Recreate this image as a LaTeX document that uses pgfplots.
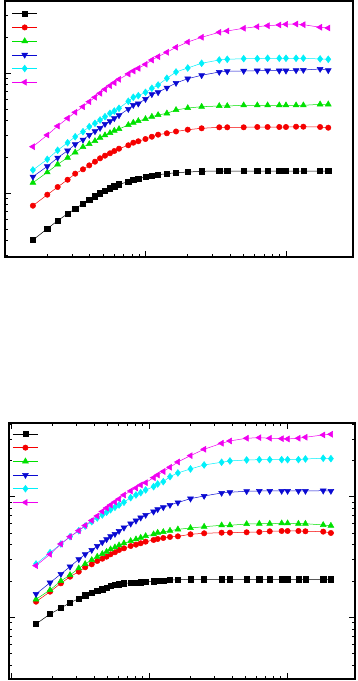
\documentclass[border=0pt]{standalone}
\usepackage{pgfplots}
\usepackage{pgfplotstable}
\pgfplotsset{compat=1.18}
\definecolor{cK}{RGB}{0,0,0}
\definecolor{cR}{RGB}{245,0,0}
\definecolor{cG}{RGB}{0,225,0}
\definecolor{cB}{RGB}{10,10,210}
\definecolor{cC}{RGB}{0,240,250}
\definecolor{cM}{RGB}{240,0,240}

\pgfplotstableread{
x k r g b c m
0.158 0.0406 0.0784 0.1218 0.1367 0.1555 0.2432
0.20 0.0504 0.0968 0.1488 0.1669 0.191 0.3043
0.237 0.0588 0.1122 0.1734 0.1968 0.227 0.3614
0.279 0.0672 0.129 0.1968 0.2252 0.2625 0.4195
0.316 0.074 0.1449 0.2183 0.2545 0.2944 0.4705
0.359 0.0815 0.1576 0.2416 0.278 0.3243 0.5236
0.398 0.088 0.170 0.2559 0.3043 0.3569 0.5764
0.437 0.0939 0.1823 0.271 0.3266 0.381 0.6275
0.475 0.0994 0.1946 0.289 0.3483 0.4058 0.6776
0.515 0.1039 0.2046 0.3027 0.3758 0.4324 0.7316
0.559 0.1094 0.2143 0.3162 0.396 0.4613 0.7839
0.60 0.1137 0.2239 0.3304 0.4195 0.482 0.8299
0.648 0.1181 0.234 0.3413 0.444 0.508 0.886
0.755 0.1242 0.2498 0.3689 0.501 0.581 0.9817
0.819 0.1283 0.2625 0.3855 0.541 0.6275 1.04
0.889 0.1316 0.2698 0.398 0.555 0.647 1.094
1.0 0.136 0.2818 0.4138 0.607 0.690 1.181
1.11 0.1394 0.2944 0.4324 0.665 0.7458 1.283
1.23 0.142 0.3062 0.4467 0.690 0.794 1.368
1.42 0.1449 0.3145 0.4613 0.754 0.903 1.488
1.65 0.1476 0.3256 0.492 0.8254 1.02 1.637
2.0 0.1496 0.337 0.5105 0.8964 1.101 1.811
2.51 0.1516 0.346 0.5236 0.957 1.205 1.984
3.35 0.1525 0.3528 0.531 1.0188 1.283 2.183
3.82 0.1525 0.3528 0.531 1.033 1.30 2.239
5.0 0.1525 0.3528 0.538 1.04 1.316 2.358
6.25 0.1525 0.3548 0.538 1.045 1.316 2.432
7.4 0.1525 0.3548 0.538 1.045 1.326 2.478
8.96 0.1525 0.3548 0.538 1.045 1.326 2.512
10 0.1525 0.3548 0.538 1.045 1.326 2.547
11.8 0.1525 0.3569 0.538 1.053 1.326 2.559
13.3 0.1525 0.3569 0.538 1.059 1.326 2.527
17.5 0.1525 0.3548 0.548 1.079 1.309 2.404
20 0.1525 0.35 0.548 1.053 1.30 2.371
}\toptable

\pgfplotstableread{
x k r g b c m
0.152 0.088 0.1347 0.141 0.156 0.2767 0.2679
0.192 0.1065 0.1631 0.1684 0.1936 0.3433 0.333
0.230 0.1194 0.1913 0.2 0.2286 0.4053 0.4053
0.268 0.1321 0.2171 0.2242 0.2628 0.4659 0.4659
0.31 0.1426 0.2388 0.2548 0.3027 0.5223 0.5223
0.345 0.1522 0.2598 0.2767 0.333 0.5715 0.577
0.385 0.159 0.2751 0.2986 0.3614 0.6204 0.6348
0.422 0.1652 0.293 0.318 0.390 0.6658 0.6918
0.459 0.1706 0.306 0.335 0.4185 0.7052 0.754
0.493 0.176 0.318 0.350 0.4432 0.7424 0.806
0.527 0.1818 0.333 0.3664 0.4694 0.78 0.8535
0.567 0.1853 0.346 0.3805 0.4905 0.8167 0.9038
0.607 0.1877 0.3614 0.3954 0.5195 0.8535 0.957
0.659 0.1913 0.3733 0.4108 0.5533 0.8988 1.033
0.737 0.1924 0.390 0.4292 0.597 0.9811 1.115
0.805 0.1936 0.400 0.4432 0.6324 1.033 1.181
0.871 0.195 0.4108 0.4571 0.6697 1.079 1.25
0.946 0.196 0.4236 0.472 0.7052 1.137 1.306
1.08 0.1988 0.4375 0.4877 0.7509 1.21 1.437
1.156 0.2 0.4459 0.5028 0.786 1.274 1.513
1.27 0.201 0.4545 0.5095 0.8167 1.331 1.618
1.42 0.2038 0.4634 0.5223 0.8535 1.465 1.753
1.62 0.205 0.469 0.536 0.895 1.573 1.94
2.0 0.2065 0.4877 0.55 0.9625 1.697 2.188
2.51 0.2065 0.497 0.5638 1.0135 1.832 2.472
3.36 0.2065 0.5028 0.579 1.073 1.929 2.772
3.86 0.2065 0.5028 0.579 1.088 1.977 2.897
5.1 0.2065 0.5066 0.5935 1.109 2.015 3.05
6.3 0.2065 0.5095 0.597 1.115 2.027 3.085
7.5 0.2065 0.5164 0.597 1.115 2.027 3.05
9.15 0.2065 0.5195 0.6016 1.115 2.027 3.027
10.1 0.2065 0.5195 0.6016 1.115 2.027 3.009
12.1 0.2065 0.5195 0.597 1.115 2.027 3.05
13.6 0.2065 0.5164 0.597 1.115 2.054 3.109
18.3 0.2065 0.5129 0.5825 1.121 2.082 3.249
20.8 0.2065 0.50 0.5748 1.115 2.066 3.292
}\bottable

\pgfplotsset{
  legend image code/.code={%
    \draw[mark repeat=2, mark phase=2, #1] plot coordinates {(0pt,0pt) (12.5pt,0pt) (25pt,0pt)};},
}

\begin{document}
\begin{tikzpicture}[x=1pt,y=1pt]
\useasboundingbox (0,0) rectangle (357,681);
\pgfplotsset{
  every axis/.append style={
    scale only axis,
    xticklabels={}, yticklabels={},
    tick align=inside,
    major tick length=6pt,
    minor tick length=3pt,
    every tick/.style={black, line width=0.7pt},
    axis line style={line width=1.6pt},
    legend style={draw=none, fill=none, inner sep=0pt, outer sep=0pt,
      row sep=0pt, column sep=0pt,
      nodes={inner sep=0pt, outer sep=0pt, text height=6.85pt, text depth=6.85pt}},
    legend cell align=left,
  },
}
\begin{loglogaxis}[
  at={(5pt,424pt)}, anchor=south west,
  width=348pt, height=256pt,
  xmin=0.1, xmax=30, ymin=0.0293, ymax=3.98,
  xtick pos=lower, ytick pos=left,
  legend style={at={(0.02,0.977)}, anchor=north west},
]
\addplot[color=cK, line width=0.5pt, mark=square*, mark size=2.6pt, mark options={solid, fill=cK}] table[x=x,y=k]{\toptable}; \addlegendentry{}
\addplot[color=cR, line width=0.5pt, mark=*, mark size=2.7pt, mark options={solid, fill=cR}] table[x=x,y=r]{\toptable}; \addlegendentry{}
\addplot[color=cG, line width=0.5pt, mark=triangle*, mark size=3.4pt, mark options={solid, fill=cG}] table[x=x,y=g]{\toptable}; \addlegendentry{}
\addplot[color=cB, line width=0.5pt, mark=triangle*, mark size=3.4pt, mark options={solid, fill=cB, rotate=180}] table[x=x,y=b]{\toptable}; \addlegendentry{}
\addplot[color=cC, line width=0.5pt, mark=diamond*, mark size=3.4pt, mark options={solid, fill=cC}] table[x=x,y=c]{\toptable}; \addlegendentry{}
\addplot[color=cM, line width=0.5pt, mark=triangle*, mark size=3.4pt, mark options={solid, fill=cM, rotate=90}] table[x=x,y=m]{\toptable}; \addlegendentry{}
\end{loglogaxis}
\begin{loglogaxis}[
  at={(9pt,2pt)}, anchor=south west,
  width=346pt, height=256pt,
  xmin=0.0968, xmax=31.1, ymin=0.0308, ymax=4.08,
  legend style={at={(0.0107,0.984)}, anchor=north west},
]
\addplot[color=cK, line width=0.5pt, mark=square*, mark size=2.6pt, mark options={solid, fill=cK}] table[x=x,y=k]{\bottable}; \addlegendentry{}
\addplot[color=cR, line width=0.5pt, mark=*, mark size=2.7pt, mark options={solid, fill=cR}] table[x=x,y=r]{\bottable}; \addlegendentry{}
\addplot[color=cG, line width=0.5pt, mark=triangle*, mark size=3.4pt, mark options={solid, fill=cG}] table[x=x,y=g]{\bottable}; \addlegendentry{}
\addplot[color=cB, line width=0.5pt, mark=triangle*, mark size=3.4pt, mark options={solid, fill=cB, rotate=180}] table[x=x,y=b]{\bottable}; \addlegendentry{}
\addplot[color=cC, line width=0.5pt, mark=diamond*, mark size=3.4pt, mark options={solid, fill=cC}] table[x=x,y=c]{\bottable}; \addlegendentry{}
\addplot[color=cM, line width=0.5pt, mark=triangle*, mark size=3.4pt, mark options={solid, fill=cM, rotate=90}] table[x=x,y=m]{\bottable}; \addlegendentry{}
\end{loglogaxis}
\end{tikzpicture}
\end{document}
